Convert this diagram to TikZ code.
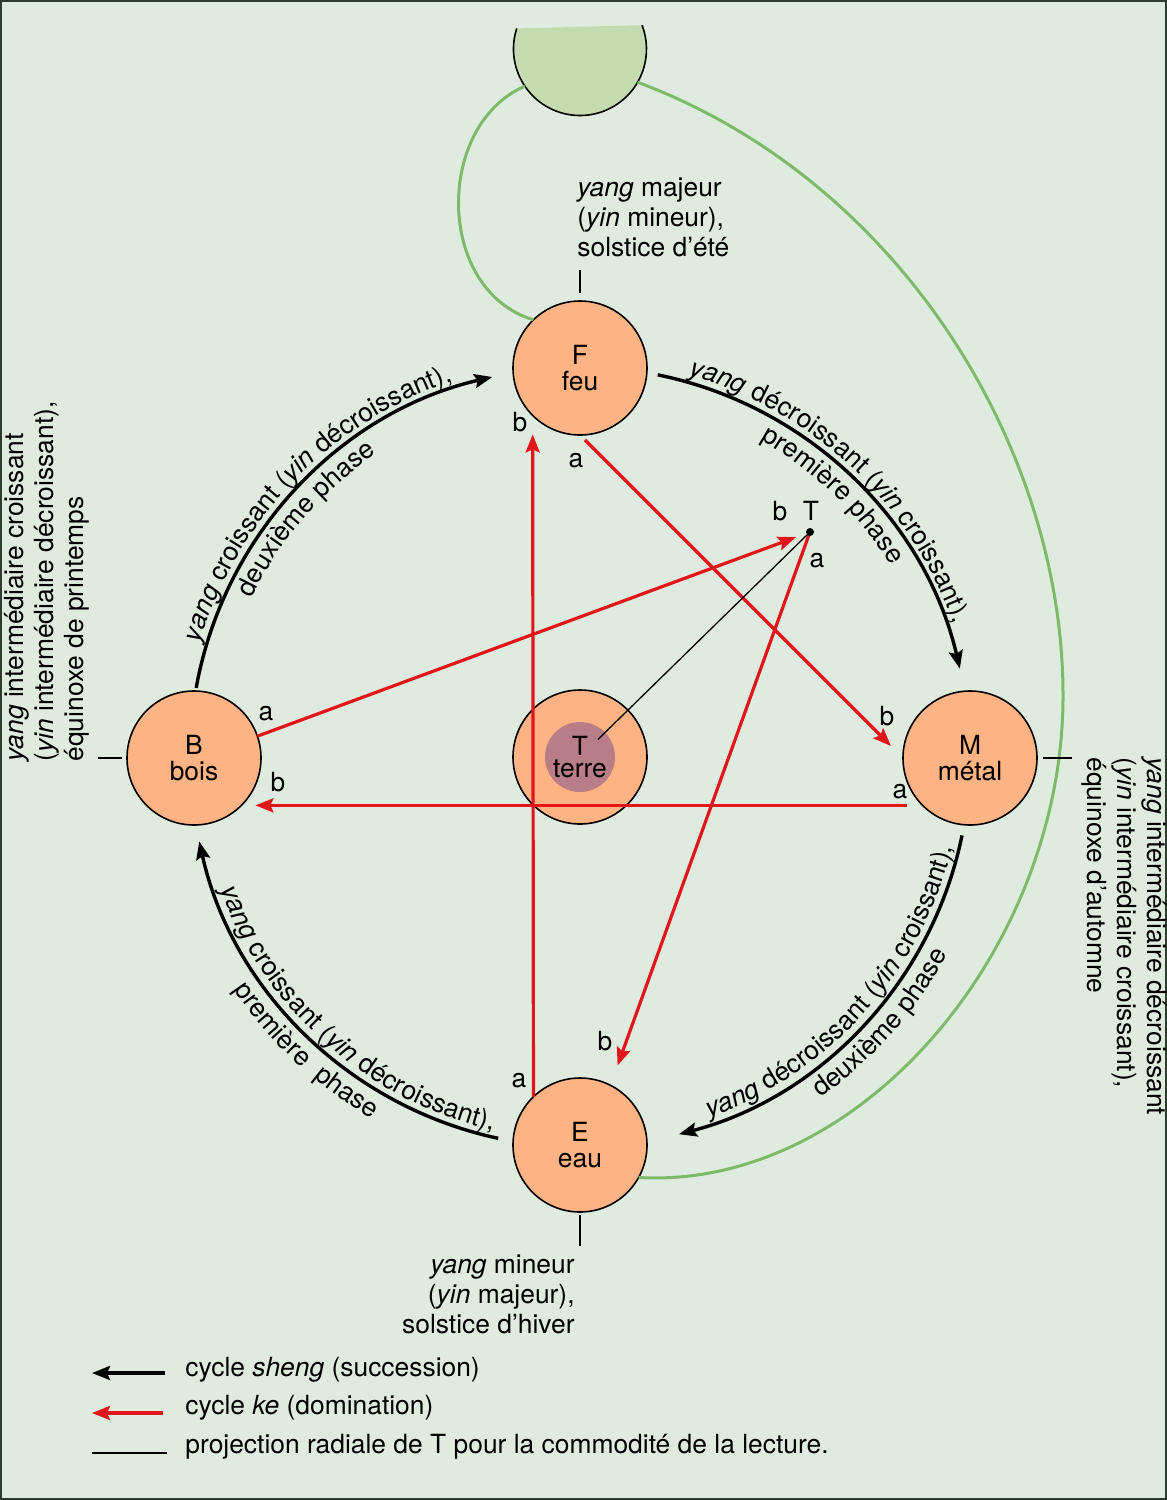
\documentclass[tikz,border=0pt]{standalone}
\usepackage{fontspec}
\setmainfont{TeX Gyre Heros}
\usetikzlibrary{arrows.meta,decorations.text}
\definecolor{bg}{HTML}{E0EBDF}
\definecolor{peach}{HTML}{FDB383}
\definecolor{terrein}{HTML}{B97D87}
\definecolor{topgreen}{HTML}{C3DBAF}
\definecolor{lgreen}{HTML}{7DBA69}
\definecolor{kered}{HTML}{E2151B}
\definecolor{framec}{HTML}{2E3B30}
\tikzset{
  elem/.style={circle, draw=black, line width=0.8pt, fill=peach, minimum size=67pt, inner sep=0pt, outer sep=0pt, align=center, font=\fontsize{13.2}{13}\selectfont},
  sheng/.style={line width=1.7pt, -{Stealth[length=9pt,width=7pt,inset=1.5pt]}},
  ke/.style={kered, line width=1.6pt, -{Stealth[length=9pt,width=7pt,inset=1.5pt]}},
  proj/.style={line width=0.65pt},
  lbl/.style={font=\fontsize{13.2}{15}\selectfont, inner sep=0pt},
  ab/.style={font=\fontsize{13.2}{15}\selectfont, inner sep=0pt, anchor=base},
  greenl/.style={draw=lgreen, line width=1.5pt},
  tickl/.style={line width=0.65pt},
  arctext/.style={decorate, decoration={text along path, text align=center, text={#1}}},
}
\begin{document}
\begin{tikzpicture}[x=0.5pt,y=0.5pt]
\fontsize{13.2}{15}\selectfont
\useasboundingbox (0,0) rectangle (1167,-1500);
\fill[bg] (0,0) rectangle (1167,-1500);
\draw[framec, line width=1pt] (1,-1) rectangle (1166,-1499);

% top half-disc
\node[circle, minimum size=66.5pt, inner sep=0pt, outer sep=0pt] (S) at (580,-49) {};
\fill[topgreen] ([shift={(162:66.5)}]S.center) arc[start angle=162, end angle=381, radius=66.5] -- cycle;
\draw[line width=0.8pt] ([shift={(162:66.5)}]S.center) arc[start angle=162, end angle=381, radius=66.5];

% element circles
\node[elem] (F) at (580,-368) {F\\feu};
\node[elem] (B) at (194,-758) {B\\bois};
\node[elem] (M) at (970,-758) {M\\métal};
\node[elem] (E) at (580,-1145) {E\\eau};
\node[elem] (T) at (580,-757) {};
\node[circle, fill=terrein, minimum size=35pt, inner sep=0pt] (Tin) at (T.center) {};

% green curves
\draw[greenl] (S.214) .. controls (435,-125) and (435,-290) .. (F.134);
\draw[greenl] (S.-30) .. controls (900,-180) and (1065,-450) .. (1063,-700)
   .. controls (1061,-950) and (860,-1190) .. (E.-29);

% sheng cycle
\draw[sheng] ([shift={(78.5:390)}]T.center) arc[start angle=78.5, end angle=13.1, radius=390];
\draw[sheng] ([shift={(169.8:390)}]T.center) arc[start angle=169.8, end angle=103, radius=390];
\draw[sheng] ([shift={(257.9:390)}]T.center) arc[start angle=257.9, end angle=192.5, radius=390];
\draw[sheng] ([shift={(-11.6:390)}]T.center) arc[start angle=-11.6, end angle=-75.3, radius=390];

% arc texts
\path[arctext={|\itshape|yang|| croissant (|\itshape|yin|| décroissant),}] ([shift={(182:397)}]T.center) arc[start angle=182, end angle=90, radius=397];
\path[arctext={deuxième phase}] ([shift={(179:365)}]T.center) arc[start angle=179, end angle=99, radius=365];
\path[arctext={|\itshape|yang|| décroissant (|\itshape|yin|| croissant),}] ([shift={(92:397)}]T.center) arc[start angle=92, end angle=1.6, radius=397];
\path[arctext={première phase}] ([shift={(86:365)}]T.center) arc[start angle=86, end angle=6, radius=365];
\path[arctext={|\itshape|yang|| croissant (|\itshape|yin|| décroissant),}] ([shift={(186:383)}]T.center) arc[start angle=186, end angle=271, radius=383];
\path[arctext={première\ \ phase}] ([shift={(187:417)}]T.center) arc[start angle=187, end angle=267, radius=417];
\path[arctext={|\itshape|yang|| décroissant (|\itshape|yin|| croissant),}] ([shift={(-84:383)}]T.center) arc[start angle=-84, end angle=0, radius=383];
\path[arctext={deuxième phase}] ([shift={(-81:417)}]T.center) arc[start angle=-81, end angle=-2, radius=417];

% ke cycle
\coordinate (Tp) at (810,-532);
\draw[ke, shorten >=9.5pt] (E.134.5) -- (F.225.5);
\draw[ke, shorten <=3.5pt, shorten >=8.5pt] (F.270) -- (M.180);
\draw[ke, shorten <=8pt, shorten >=7pt] (M.225.8) -- (B.-45.8);
\draw[ke, shorten >=7.5pt] (B.19.5) -- (Tp);
\draw[ke, shorten >=10.5pt] (Tp) -- (E.63.6);

% radial projection of T
\draw[proj, shorten >=12.5pt] (Tp) -- (T.center);
\fill (Tp) circle[radius=2pt];
\node[align=center, font=\fontsize{13.2}{11}\selectfont, inner sep=0pt] (Tlab) at (T.center) {T\\terre};

% a / b labels
\node[ab] (bF) at (520,-431) {b};
\node[ab] (aF) at (576,-467) {a};
\node[ab] (bT) at (780,-520) {b};
\node[ab] (Tt) at (811,-520) {T};
\node[ab] (aT) at (817,-567) {a};
\node[ab] (aB) at (266,-720) {a};
\node[ab] (bB) at (278,-791) {b};
\node[ab] (bM) at (887,-725) {b};
\node[ab] (aM) at (900,-798) {a};
\node[ab] (bE) at (605,-1050) {b};
\node[ab] (aE) at (519,-1087) {a};

% ticks
\draw[tickl] ([yshift=4pt]F.north) -- ([yshift=15.5pt]F.north);
\draw[tickl] ([yshift=-1.5pt]E.south) -- ([yshift=-17pt]E.south);
\draw[tickl] ([xshift=-2.5pt]B.west) -- ([xshift=-14.5pt]B.west);
\draw[tickl] ([xshift=3pt]M.east) -- ([xshift=17.5pt]M.east);

% season labels
\node[lbl, align=left, anchor=north west] (Flab) at (577,-177) {\textit{yang} majeur\\(\textit{yin} mineur),\\solstice d’été};
\node[lbl, align=right, anchor=north east] (Elab) at (575,-1254) {\textit{yang} mineur\\(\textit{yin} majeur),\\solstice d’hiver};
\node[lbl, align=left, rotate=90, anchor=south west] (Blab) at (90,-762) {\textit{yang} intermédiaire croissant\\(\textit{yin} intermédiaire décroissant),\\équinoxe de printemps};
\node[lbl, align=left, rotate=-90, anchor=south west] (Mlab) at (1081,-757) {\textit{yang} intermédiaire décroissant\\(\textit{yin} intermédiaire croissant),\\équinoxe d’automne};

% legend
\coordinate (l1a) at (165,-1373); \coordinate (l1b) at (92,-1373);
\coordinate (l2a) at (163,-1413); \coordinate (l2b) at (92,-1413);
\coordinate (l3a) at (92,-1453); \coordinate (l3b) at (167,-1453);
\draw[sheng] (l1a) -- (l1b);
\draw[ke] (l2a) -- (l2b);
\draw[proj] (l3a) -- (l3b);
\node[lbl, anchor=base west] (L1) at (185,-1376) {cycle \textit{sheng} (succession)};
\node[lbl, anchor=base west] (L2) at (185,-1414) {cycle \textit{ke} (domination)};
\node[lbl, anchor=base west] (L3) at (185,-1453) {projection radiale de T pour la commodité de la lecture.};
\end{tikzpicture}
\end{document}
